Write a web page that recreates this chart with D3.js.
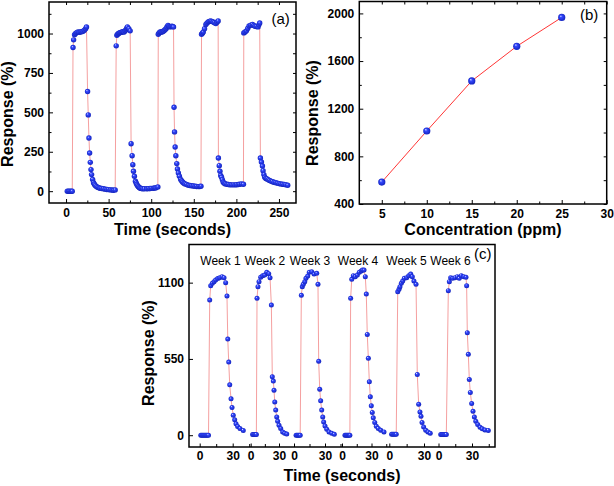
<!DOCTYPE html>
<html>
<head>
<meta charset="utf-8">
<script src="https://cdn.jsdelivr.net/npm/d3@7/dist/d3.min.js"></script>
<style>
body { margin: 0; background: #fff; }
svg { display: block; font-family: "Liberation Sans", Arial, sans-serif; }
</style>
</head>
<body>
<script>
const width = 614
const height = 486

// (a) five repeated cycles, [time (s), response (%)]
const cycle1 = [[1.5,0],[3,0],[4.5,0],[6,0],[7.3,0],[8.2,911],[8.9,960],[10,993],[11.2,1000],[12.5,1006],[14,1010],[15.5,1008],[17,1010],[18.5,1012],[20,1014],[21.5,1021],[23,1030],[24,1042],[25.3,632],[26.1,484],[26.9,337],[27.7,242],[28.5,183],[29.3,137],[30,105],[31.2,74],[32.3,53],[33.3,44],[34.3,36],[35.6,30],[37,25],[38.5,22],[40,19],[42,17],[44,15],[46,13],[48,11],[50,10],[52,8],[54,7],[55.8,6],[57.7,8]]
const cycle2 = [[58.9,922],[59.7,989],[60.6,995],[61.6,1000],[62.6,1004],[63.6,1006],[64.8,1008],[65.9,1010],[67,1012],[68.2,1010],[69.4,1018],[70.5,1025],[71.3,1034],[72.1,1042],[73.7,1031],[75.3,1017],[76.4,301],[77.6,225],[78.4,168],[79.2,126],[80.3,95],[81.5,63],[82.3,52],[83.1,42],[84,34],[85,28],[86,23],[87,19],[88.5,17],[90,15],[92,15],[94.8,15],[96.8,16],[98.7,17],[100.6,18],[102.6,19],[104.2,20],[105.7,21],[107.8,27]]
const cycle3 = [[108.3,995],[109.3,1004],[110.4,1010],[111.6,1010],[112.8,1010],[114,1014],[115,1017],[116.2,1024],[117.4,1031],[118.5,1042],[119.7,1052],[121,1046],[122.1,1042],[123.3,1044],[124.4,1046],[125.4,1044],[126.2,1042],[126.8,532],[127.4,376],[128.1,280],[128.9,225],[130,175],[130.8,141],[131.9,116],[133.1,95],[134.6,74],[135.8,65],[137,57],[138.4,51],[139.7,46],[141.6,42],[143.6,38],[145.5,36],[147.5,34],[149.5,33],[151.4,32],[153.3,30],[155.3,29],[157,30],[158.4,32]]
const cycle4 = [[159.1,995],[160.1,1002],[161.1,1010],[162.6,1030],[164.2,1058],[165.5,1066],[166.9,1073],[168.3,1077],[169.7,1080],[171.2,1077],[172.8,1073],[174.3,1068],[175.9,1063],[177.2,1072],[178.6,1080],[178.9,210],[179.9,162],[180.7,127],[181.6,100],[182.6,88],[183.6,72],[184.6,57],[185.8,51],[187,46],[188.8,44],[190.5,42],[192.4,41],[194.4,40],[196.4,40],[198.3,40],[200.2,41],[202.2,42],[204,44],[206.1,46],[208.3,44]]
const cycle5 = [[208.7,1004],[210.2,1010],[211.8,1017],[213.3,1032],[214.9,1048],[216.9,1053],[218.9,1057],[220.4,1051],[221.9,1046],[223.6,1044],[225.4,1042],[226.4,1055],[227.4,1067],[228.2,210],[229.4,185],[230.6,160],[231.3,130],[232.3,105],[233.3,88],[234.6,80],[236,78],[237.5,72],[239,68],[240.6,64],[242.3,60],[244.2,57],[246.2,54],[248.2,51],[250.1,48],[252,46],[254,44],[256,43],[257.9,41],[260.3,38]]

// (b) response vs concentration
const conc = [5, 10, 15, 20, 25]
const resp = [584, 1013, 1433, 1724, 1966]

// (c) stability over six weeks, [time (s), response (%)]
const weekNames = ["Week 1", "Week 2", "Week 3", "Week 4", "Week 5", "Week 6"]
const week1 = [[1,0],[2,0],[3,0],[4,0],[5,0],[6,0],[7,0],[8,0],[9.1,975],[10,1078],[11.5,1095],[13,1107],[14.5,1119],[16.4,1129],[18.2,1136],[20.3,1143],[22.1,1136],[23.6,1100],[24.8,1004],[25.5,693],[26.4,527],[27.3,363],[28.5,262],[29.4,200],[30.5,144],[31.8,111],[33,82],[34.5,63],[36.6,48],[39.6,34]]
const week2 = [[2,5],[3,5],[4,5],[5,5],[6,5],[6.7,987],[7.7,1071],[8.8,1107],[10.6,1139],[12.7,1150],[14.8,1155],[17,1175],[19.1,1165],[20.5,1136],[21.9,939],[22.9,421],[24,390],[24.7,325],[25.5,240],[26.5,181],[27.6,132],[28.6,101],[30,72],[31.8,48],[33.9,24],[36,14],[38.2,9]]
const week3 = [[2,0],[3,0],[4,0],[5,0],[6,0],[7.1,1009],[8,1071],[9,1088],[10.4,1107],[11.6,1131],[13.3,1148],[14.8,1175],[17.1,1179],[19.4,1162],[22,1167],[23.2,1088],[23.9,534],[24.9,332],[25.8,248],[26.8,181],[27.8,132],[28.7,96],[30,67],[31.7,43],[33.9,24],[36.5,14],[39,7]]
const week4 = [[3,0],[4,0],[5,0],[6,0],[7,0],[8,0],[8.8,987],[9.9,1124],[11.5,1150],[13.5,1143],[15.6,1155],[17.6,1175],[19.6,1184],[20.8,1191],[22.4,1191],[23.7,1143],[24.7,1018],[25.7,727],[26.8,554],[27.8,385],[28.8,277],[29.8,212],[30.8,164],[31.8,125],[33.3,92],[34.9,65],[36.9,48],[39.4,36],[42.7,24]]
const week5 = [[2,7],[3,7],[4,7],[5,7],[6,7],[7.3,1035],[8.4,1052],[9.2,1071],[10.4,1095],[11.6,1112],[13,1131],[15,1136],[16.8,1150],[18.5,1162],[19.9,1143],[21.3,1112],[23.1,1088],[24.2,438],[25.4,224],[26.5,168],[27.4,137],[28.3,92],[29.7,60],[31.5,36],[33.4,24],[35.4,14]]
const week6 = [[2,5],[3,5],[4,5],[5,5],[6,5],[7,5],[8.8,1042],[9.7,1107],[10.9,1136],[12.7,1131],[14.8,1136],[16.8,1143],[18.6,1131],[20.4,1150],[22.6,1143],[24.6,1139],[25.2,1078],[25.8,739],[26.7,583],[27.6,402],[28.5,308],[29.7,228],[30.9,173],[32.1,132],[33.4,101],[35.1,77],[37.2,58],[39.2,46],[41.6,38],[44.6,34]]
const weeks = [week1, week2, week3, week4, week5, week6]
const weekTicks = [0, 15, 30, 45]
const weekLabelTicks = [0, 30]

// layout
const frameA = {left: 49, right: 296, top: 2, bottom: 203}
const frameB = {left: 359.3, right: 606.7, top: 1.5, bottom: 204}
const frameC = {left: 189, right: 495, top: 244.5, bottom: 447}
// x position of the 0 s and 30 s ticks of every week segment
const weekPos = [[199.7, 232.7], [250.7, 279], [294, 325], [342, 371.5], [389.3, 424], [438.5, 472]]
const weekLabelX = [220.5, 265, 310, 358, 406.5, 450.5]

const svg = d3.select("body").append("svg")
    .attr("width", width)
    .attr("height", height)
    .attr("viewBox", [0, 0, width, height])

const grad = svg.append("defs").append("radialGradient")
    .attr("id", "ball")
    .attr("cx", "50%").attr("cy", "50%").attr("r", "55%")
    .attr("fx", "35%").attr("fy", "30%")
grad.append("stop").attr("offset", "0%").attr("stop-color", "#dfe4ff")
grad.append("stop").attr("offset", "30%").attr("stop-color", "#3448ff")
grad.append("stop").attr("offset", "100%").attr("stop-color", "#1020b8")

const styleAxis = g => g
    .attr("font-family", null)
    .attr("font-size", 12)
    .attr("font-weight", "bold")
    .call(g => g.select(".domain").remove())
    .call(g => g.selectAll(".tick line").attr("stroke", "#000"))
    .call(g => g.selectAll(".tick text").attr("fill", "#000"))

// inward ticks on all four sides, labels only bottom/left
function boxAxes(f, x, y, xMajor, xMinor, yMajor, yMinor, xFmt, yFmt) {
    const g = svg.append("g")
    g.append("g").attr("transform", `translate(0,${f.bottom})`)
        .call(d3.axisBottom(x).tickValues(xMajor).tickFormat(xFmt).tickSizeInner(-4).tickSizeOuter(0).tickPadding(5.5))
        .call(styleAxis)
    g.append("g").attr("transform", `translate(0,${f.bottom})`)
        .call(d3.axisBottom(x).tickValues(xMinor).tickFormat("").tickSizeInner(-2.5).tickSizeOuter(0))
        .call(styleAxis)
    g.append("g").attr("transform", `translate(0,${f.top})`)
        .call(d3.axisTop(x).tickValues(xMajor.concat(xMinor)).tickFormat("").tickSizeInner(-3).tickSizeOuter(0))
        .call(styleAxis)
    g.append("g").attr("transform", `translate(${f.left},0)`)
        .call(d3.axisLeft(y).tickValues(yMajor).tickFormat(yFmt).tickSizeInner(-4).tickSizeOuter(0).tickPadding(5))
        .call(styleAxis)
    g.append("g").attr("transform", `translate(${f.left},0)`)
        .call(d3.axisLeft(y).tickValues(yMinor).tickFormat("").tickSizeInner(-2.5).tickSizeOuter(0))
        .call(styleAxis)
    g.append("g").attr("transform", `translate(${f.right},0)`)
        .call(d3.axisRight(y).tickValues(yMajor.concat(yMinor)).tickFormat("").tickSizeInner(-3).tickSizeOuter(0))
        .call(styleAxis)
}

function frame(f) {
    svg.append("rect")
        .attr("x", f.left).attr("y", f.top)
        .attr("width", f.right - f.left).attr("height", f.bottom - f.top)
        .attr("fill", "none").attr("stroke", "#000").attr("stroke-width", 1.5)
}

function title(text, x, y, rotate) {
    svg.append("text")
        .attr("transform", `translate(${x},${y})` + (rotate ? " rotate(-90)" : ""))
        .attr("text-anchor", "middle")
        .attr("font-size", 16)
        .attr("font-weight", "bold")
        .text(text)
}

function tag(text, x, y) {
    svg.append("text").attr("x", x).attr("y", y)
        .attr("font-size", 15)
        .text(text)
}

function dots(data, x, y, r) {
    svg.append("g").selectAll("circle")
        .data(data)
        .join("circle")
        .attr("cx", d => x(d[0]))
        .attr("cy", d => y(d[1]))
        .attr("r", r)
        .attr("fill", "url(#ball)")
}

// ---------- (a)
const xA = d3.scaleLinear().domain([-20, 270]).range([frameA.left, frameA.right])
const yA = d3.scaleLinear().domain([-75, 1200]).range([frameA.bottom, frameA.top])
const allA = cycle1.concat(cycle2, cycle3, cycle4, cycle5)

svg.append("path")
    .datum(allA)
    .attr("fill", "none")
    .attr("stroke", "#f5a0a0")
    .attr("stroke-width", 1)
    .attr("d", d3.line().x(d => xA(d[0])).y(d => yA(d[1])))
dots(allA, xA, yA, 2.7)

boxAxes(frameA, xA, yA,
    [0, 50, 100, 150, 200, 250], [25, 75, 125, 175, 225],
    [0, 250, 500, 750, 1000], [125, 375, 625, 875, 1125],
    d3.format("d"), d3.format("d"))
frame(frameA)
title("Time (seconds)", (frameA.left + frameA.right) / 2, 235)
title("Response (%)", 13, 114, true)
tag("(a)", 271.5, 23.5)

// ---------- (b)
const xB = d3.scaleLinear().domain([2.5, 30]).range([frameB.left, frameB.right])
const yB = d3.scaleLinear().domain([400, 2100]).range([frameB.bottom, frameB.top])
const dataB = conc.map((c, i) => [c, resp[i]])

svg.append("path")
    .datum(dataB)
    .attr("fill", "none")
    .attr("stroke", "#ff3535")
    .attr("stroke-width", 1)
    .attr("d", d3.line().x(d => xB(d[0])).y(d => yB(d[1])))
dots(dataB, xB, yB, 3.6)

boxAxes(frameB, xB, yB,
    [5, 10, 15, 20, 25, 30], [7.5, 12.5, 17.5, 22.5, 27.5],
    [400, 800, 1200, 1600, 2000], [600, 1000, 1400, 1800],
    d3.format("d"), d3.format("d"))
frame(frameB)
title("Concentration (ppm)", (frameB.left + frameB.right) / 2, 235)
title("Response (%)", 318, 113, true)
tag("(b)", 580, 20)

// ---------- (c)
const yC = d3.scaleLinear().domain([-85, 1375]).range([frameC.bottom, frameC.top])
const xWeek = weekPos.map(p => d3.scaleLinear().domain([0, 30]).range(p))

weeks.forEach((w, i) => {
    const x = xWeek[i]
    svg.append("path")
        .datum(w)
        .attr("fill", "none")
        .attr("stroke", "#f5a0a0")
        .attr("stroke-width", 1)
        .attr("d", d3.line().x(d => x(d[0])).y(d => yC(d[1])))
    dots(w, x, yC, 2.5)

    const limit = i < weeks.length - 1 ? weekPos[i + 1][0] - 1 : frameC.right
    const minor = weekTicks.filter(t => !weekLabelTicks.includes(t) && x(t) < limit)
    svg.append("g").attr("transform", `translate(0,${frameC.bottom})`)
        .call(d3.axisBottom(x).tickValues(weekLabelTicks).tickFormat(d3.format("d")).tickSizeInner(-3.5).tickSizeOuter(0).tickPadding(4.5))
        .call(styleAxis)
    svg.append("g").attr("transform", `translate(0,${frameC.bottom})`)
        .call(d3.axisBottom(x).tickValues(minor).tickFormat("").tickSizeInner(-3).tickSizeOuter(0))
        .call(styleAxis)

    svg.append("text")
        .attr("x", weekLabelX[i]).attr("y", 265)
        .attr("text-anchor", "middle")
        .attr("font-size", 12)
        .text(weekNames[i])
})

svg.append("g").attr("transform", `translate(${frameC.left},0)`)
    .call(d3.axisLeft(yC).tickValues([0, 550, 1100]).tickFormat(d3.format("d")).tickSizeInner(-4).tickSizeOuter(0).tickPadding(5))
    .call(styleAxis)
frame(frameC)
title("Time (seconds)", (frameC.left + frameC.right) / 2, 481)
title("Response (%)", 154, 353, true)
tag("(c)", 474, 259)
</script>
</body>
</html>
